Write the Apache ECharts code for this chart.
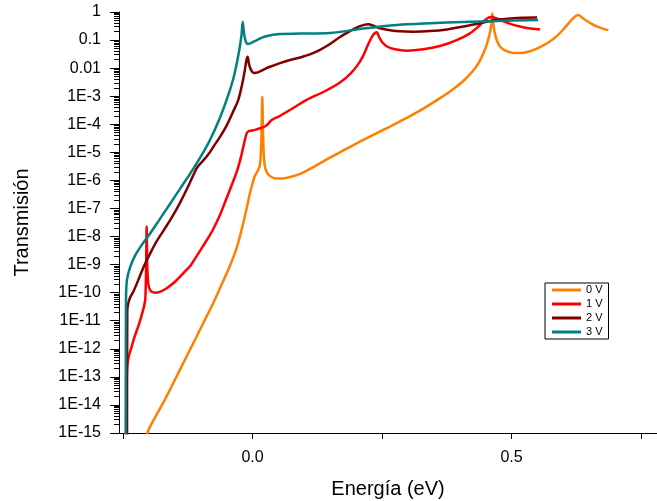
<!DOCTYPE html>
<html>
<head>
<meta charset="utf-8">
<script src="https://cdn.jsdelivr.net/npm/echarts@6/dist/echarts.min.js"></script>
<style>html,body{margin:0;padding:0;background:#fff}#c{width:657px;height:501px}</style>
</head>
<body>
<div id="c"></div>
<script>
// Energy (eV) and log10(transmission)
const seriesNames = ['0 V', '1 V', '2 V', '3 V'];
const xTicks = [-0.25, 0, 0.25, 0.5, 0.75];
const xLabels = [0, 0.5];

const e0 = [-0.2098,-0.2030,-0.1885,-0.1725,-0.1567,-0.1402,-0.1238,-0.1080,-0.0919,-0.0759,-0.0601,-0.0437,-0.0301,-0.0180,-0.0108,-0.0050,-0.0002,0.0037,0.0085,0.0133,0.0158,0.0174,0.0187,0.0201,0.0216,0.0240,0.0288,0.0355,0.0452,0.0587,0.0761,0.0916,0.1128,0.1366,0.1688,0.2011,0.2331,0.2654,0.2977,0.3297,0.3620,0.3852,0.4070,0.4238,0.4364,0.4470,0.4537,0.4586,0.4615,0.4630,0.4647,0.4678,0.4721,0.4779,0.4875,0.5036,0.5184,0.5358,0.5551,0.5725,0.5880,0.6015,0.6131,0.6228,0.6291,0.6363,0.6459,0.6556,0.6672,0.6788,0.6871];
const l0 = [-16.0,-15.0,-14.45,-13.92,-13.35,-12.74,-12.14,-11.56,-10.96,-10.37,-9.72,-9.04,-8.37,-7.52,-6.94,-6.45,-6.12,-5.87,-5.70,-5.52,-5.09,-4.20,-3.02,-4.20,-5.09,-5.52,-5.75,-5.87,-5.93,-5.93,-5.86,-5.77,-5.57,-5.32,-5.00,-4.68,-4.38,-4.08,-3.77,-3.44,-3.07,-2.78,-2.46,-2.14,-1.82,-1.42,-1.07,-0.71,-0.39,-0.05,-0.39,-0.75,-1.03,-1.23,-1.37,-1.46,-1.46,-1.40,-1.25,-1.07,-0.85,-0.59,-0.34,-0.16,-0.11,-0.20,-0.32,-0.43,-0.53,-0.61,-0.64];

const e1 = [-0.2440,-0.2426,-0.2397,-0.2335,-0.2272,-0.2208,-0.2156,-0.2108,-0.2073,-0.2055,-0.2046,-0.2036,-0.2015,-0.1972,-0.1885,-0.1789,-0.1659,-0.1499,-0.1339,-0.1190,-0.1016,-0.0881,-0.0759,-0.0630,-0.0514,-0.0408,-0.0307,-0.0224,-0.0166,-0.0118,-0.0079,-0.0031,0.0046,0.0143,0.0240,0.0297,0.0375,0.0529,0.0722,0.1045,0.1366,0.1688,0.1881,0.2017,0.2133,0.2229,0.2316,0.2397,0.2442,0.2500,0.2596,0.2751,0.2977,0.3297,0.3620,0.3942,0.4199,0.4354,0.4470,0.4547,0.4615,0.4682,0.4779,0.4895,0.5036,0.5295,0.5551];
const l1 = [-16,-12.74,-12.32,-11.92,-11.53,-11.20,-10.89,-10.57,-10.25,-8.90,-7.64,-8.90,-9.68,-9.93,-10.00,-9.97,-9.84,-9.61,-9.31,-9.01,-8.51,-8.12,-7.73,-7.23,-6.69,-6.19,-5.70,-5.16,-4.70,-4.34,-4.25,-4.23,-4.20,-4.14,-4.08,-3.99,-3.84,-3.70,-3.49,-3.13,-2.85,-2.51,-2.21,-1.92,-1.57,-1.17,-0.85,-0.72,-0.89,-1.07,-1.23,-1.33,-1.38,-1.33,-1.21,-1.00,-0.76,-0.53,-0.32,-0.21,-0.18,-0.21,-0.28,-0.37,-0.46,-0.57,-0.62];

const e2 = [-0.2425,-0.2420,-0.2407,-0.2368,-0.2304,-0.2214,-0.2111,-0.1982,-0.1846,-0.1711,-0.1563,-0.1402,-0.1267,-0.1151,-0.1074,-0.0977,-0.0861,-0.0746,-0.0630,-0.0494,-0.0379,-0.0276,-0.0205,-0.0156,-0.0118,-0.0095,-0.0070,-0.0031,0.0027,0.0104,0.0207,0.0336,0.0529,0.0722,0.0916,0.1109,0.1302,0.1495,0.1688,0.1881,0.2036,0.2152,0.2235,0.2345,0.2461,0.2654,0.2847,0.3098,0.3427,0.3755,0.4064,0.4393,0.4721,0.5032,0.5495];
const l2 = [-16,-10.68,-10.43,-10.18,-9.97,-9.58,-9.11,-8.62,-8.15,-7.76,-7.33,-6.80,-6.30,-5.84,-5.55,-5.34,-5.09,-4.77,-4.45,-4.02,-3.56,-3.13,-2.60,-2.14,-1.71,-1.59,-1.85,-2.06,-2.17,-2.15,-2.06,-1.95,-1.82,-1.71,-1.62,-1.51,-1.35,-1.14,-0.89,-0.68,-0.53,-0.46,-0.44,-0.50,-0.58,-0.65,-0.69,-0.70,-0.68,-0.62,-0.52,-0.40,-0.28,-0.22,-0.20];

const e3 = [-0.2452,-0.2448,-0.2445,-0.2426,-0.2368,-0.2272,-0.2137,-0.1982,-0.1789,-0.1596,-0.1402,-0.1209,-0.1016,-0.0823,-0.0630,-0.0475,-0.0359,-0.0263,-0.0214,-0.0191,-0.0166,-0.0128,-0.0083,-0.0012,0.0085,0.0240,0.0529,0.0916,0.1495,0.2133,0.2789,0.3427,0.4064,0.4721,0.5513];
const l3 = [-16,-12,-10.25,-9.54,-9.11,-8.69,-8.29,-7.90,-7.37,-6.84,-6.30,-5.77,-5.20,-4.56,-3.77,-2.99,-2.28,-1.42,-0.82,-0.345,-0.75,-1.07,-1.14,-1.09,-1.00,-0.87,-0.78,-0.77,-0.75,-0.59,-0.46,-0.40,-0.356,-0.32,-0.285];

const colors = ['#FF8000', '#FF0000', '#800000', '#008080'];
const energies = [e0, e1, e2, e3];
const logs = [l0, l1, l2, l3];

const font = 'Liberation Sans, Arial, sans-serif';
const chart = echarts.init(document.getElementById('c'), null, {renderer: 'canvas'});
chart.setOption({
  animation: false,
  backgroundColor: '#fff',
  color: colors,
  grid: {left: 119, right: 0, top: 12, bottom: 68, containLabel: false, outerBoundsMode: 'none'},
  legend: {
    orient: 'vertical', left: 545, top: 283,
    borderColor: '#000', borderWidth: 1, padding: [0, 6, 0, 7],
    itemGap: 0, itemWidth: 29, itemHeight: 3, icon: 'rect',
    textStyle: {fontFamily: font, fontSize: 11, color: '#000', lineHeight: 14},
    data: seriesNames
  },
  xAxis: {
    type: 'value', min: -0.258, max: 0.781,
    name: 'Energía (eV)', nameLocation: 'middle', nameGap: 46,
    nameTextStyle: {fontFamily: font, fontSize: 20, color: '#000'},
    axisLine: {onZero: false, lineStyle: {color: '#000', width: 1}},
    axisTick: {show: true, length: 6, customValues: xTicks, lineStyle: {color: '#000'}},
    axisLabel: {customValues: xLabels, fontFamily: font, fontSize: 16, color: '#000', margin: 17,
      formatter: v => v.toFixed(1)},
    splitLine: {show: false}
  },
  yAxis: {
    type: 'log', logBase: 10, min: 1e-15, max: 1, interval: 1, splitNumber: 15,
    name: 'Transmisión', nameLocation: 'middle', nameGap: 87, nameRotate: 90,
    nameTextStyle: {fontFamily: font, fontSize: 20, color: '#000'},
    axisLine: {show: true, onZero: false, lineStyle: {color: '#000', width: 1}},
    axisTick: {show: true, length: 9, lineStyle: {color: '#000'}},
    minorTick: {show: true, splitNumber: 9, length: 5, lineStyle: {color: '#000'}},
    axisLabel: {fontFamily: font, fontSize: 16, color: '#000', margin: 18,
      formatter: v => {
        const e = Math.round(Math.log10(v));
        if (e === 0) return '1';
        if (e === -1) return '0.1';
        if (e === -2) return '0.01';
        return '1E' + e;
      }},
    splitLine: {show: false}
  },
  series: seriesNames.map((n, i) => ({
    name: n, type: 'line', showSymbol: false, symbol: 'none',
    smooth: 0.3,
    lineStyle: {width: 2.5, color: colors[i]},
    data: energies[i].map((x, j) => [x, Math.pow(10, logs[i][j])])
  }))
});
</script>
</body>
</html>
